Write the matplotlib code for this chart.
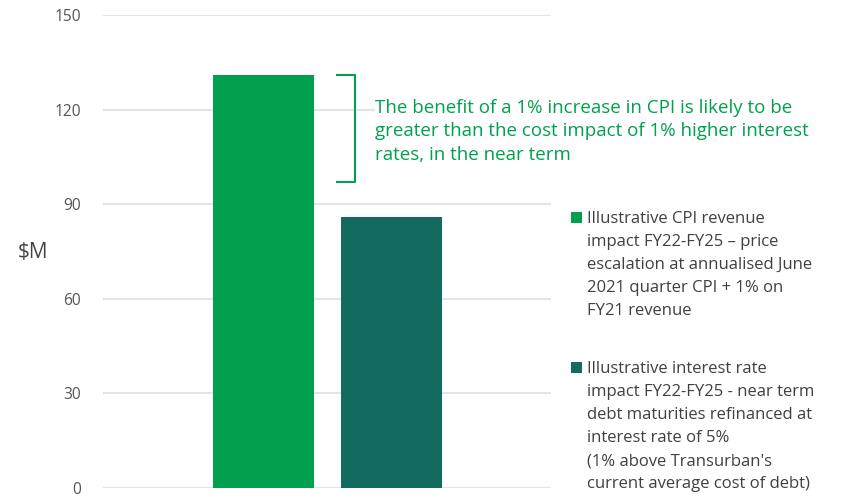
import matplotlib.pyplot as plt
from matplotlib.patches import Rectangle

# data
categories = ["CPI revenue impact", "Interest rate impact"]
values = [131, 86]
colors = ["#00a04e", "#136b5f"]
legend_labels = [
    "Illustrative CPI revenue\nimpact FY22-FY25 \u2013 price\nescalation at annualised June\n2021 quarter CPI + 1% on\nFY21 revenue",
    "Illustrative interest rate\nimpact FY22-FY25 - near term\ndebt maturities refinanced at\ninterest rate of 5%\n(1% above Transurban's\ncurrent average cost of debt)",
]
yticks = [0, 30, 60, 90, 120, 150]
note = ("The benefit of a 1% increase in CPI is likely to be\n"
        "greater than the cost impact of 1% higher interest\n"
        "rates, in the near term")
bracket_low = 97

plt.rcParams["font.family"] = ["Open Sans", "DejaVu Sans"]

W, H = 843, 494
fig = plt.figure(figsize=(W / 100, H / 100), dpi=100)
ax = fig.add_axes([103 / W, 1 - 488 / H, (551 - 103) / W, (488 - 15) / H])

x = list(range(len(values)))
ax.bar(x, values, width=0.79, color=colors, zorder=3)

ax.set_xlim(-1.254, 2.246)
ax.set_ylim(0, 150)
ax.set_yticks(yticks)
ax.set_yticklabels([str(t) for t in yticks], fontsize=11.2, color="#555555")
ax.set_xticks([])
ax.tick_params(axis="y", length=0, pad=16)
ax.grid(True, axis="y", color="#e1e5ea", linewidth=1.5, zorder=0)
for s in ax.spines.values():
    s.set_visible(False)

ax.set_ylabel("\\$M", rotation=0, fontsize=15, color="#444444", va="center")
ax.yaxis.set_label_coords(-0.157, 0.497)

# bracket + note
bx0, bx1 = 0.574, 0.715
ax.plot([bx0, bx1, bx1, bx0], [values[0], values[0], bracket_low, bracket_low],
        color="#00a04e", linewidth=1.5, clip_on=False, zorder=4)
ax.text(0.87, 123.3, note, fontsize=13.5, color="#00a04e", va="top", ha="left",
        linespacing=1.37, zorder=5, clip_on=False,
        bbox=dict(facecolor="white", edgecolor="none", pad=0))

# legend
leg_y = [212, 362]
for c, lab, ly in zip(colors, legend_labels, leg_y):
    fig.patches.append(Rectangle((571 / W, 1 - (ly + 11) / H), 11 / W, 11 / H,
                                 facecolor=c, edgecolor="none",
                                 transform=fig.transFigure))
    fig.text(587 / W, 1 - (ly - 1) / H, lab, fontsize=12, color="#404040",
             va="top", ha="left", linespacing=1.59)

fig.savefig("out.png", dpi=100)
